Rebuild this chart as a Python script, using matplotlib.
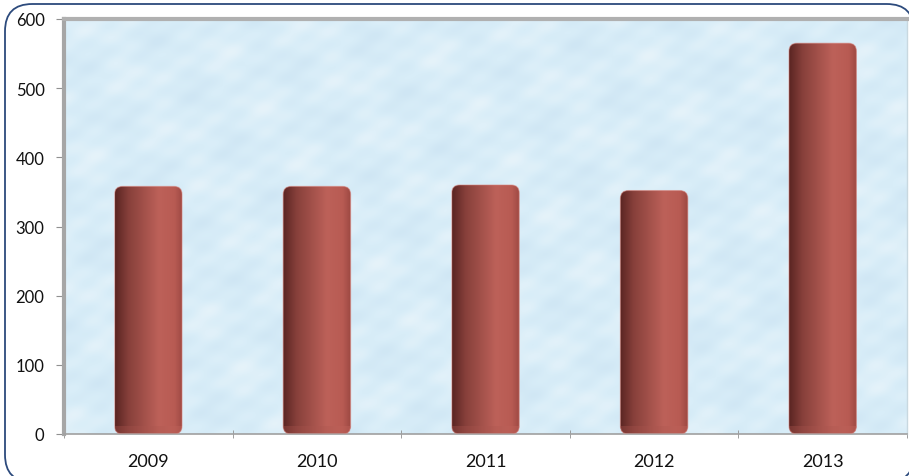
import numpy as np
import matplotlib
matplotlib.use("Agg")
import matplotlib.pyplot as plt
from matplotlib.patches import FancyBboxPatch
from matplotlib.colors import LinearSegmentedColormap

# === DATA ===
years = ["2009", "2010", "2011", "2012", "2013"]
values = [358, 358, 360, 352, 565]
y_ticks = [0, 100, 200, 300, 400, 500, 600]

# === FIGURE ===
W, H = 909, 477
fig = plt.figure(figsize=(W / 100, H / 100), dpi=100)

# outer rounded frame (right/bottom run off the image like the reference)
frame = FancyBboxPatch((5 / W, -6 / H), 909 / W, 478 / H,
                       boxstyle="round,pad=0,rounding_size=0.03",
                       transform=fig.transFigure, facecolor="white",
                       edgecolor="#2c4a7c", linewidth=1.3,
                       mutation_aspect=W / H, clip_on=False, zorder=-5)
fig.patches.append(frame)

ax_l, ax_b, ax_w, ax_h = 64, 42, 843, 415
ax = fig.add_axes([ax_l / W, ax_b / H, ax_w / W, ax_h / H])
ax.set_facecolor("#d7ecf8")
ax.set_xlim(-0.5, len(years) - 0.5)
ax.set_ylim(0, 600)

# soft mottled background (deterministic blend of waves, just texture)
gx, gy = np.meshgrid(np.linspace(0, 1, 600), np.linspace(0, 1, 300))
tex = (np.sin(gx * 37 + gy * 11) * np.cos(gy * 29 - gx * 13)
       + 0.6 * np.sin(gx * 83 - gy * 47 + 1.3) * np.sin(gy * 61 + gx * 17)
       + 0.4 * np.cos(gx * 151 + gy * 97))
tex = (tex - tex.min()) / (tex.max() - tex.min())
bg_cmap = LinearSegmentedColormap.from_list("bg", ["#cfe6f4", "#d8edf8", "#e6f3fa"])
ax.imshow(tex, extent=(-0.5, len(years) - 0.5, 0, 600), aspect="auto",
          cmap=bg_cmap, zorder=0, interpolation="bilinear")

# bars
bar_w = 0.4
bars = ax.bar(range(len(years)), values, width=bar_w, color="#a9504a", zorder=2)

cyl_cmap = LinearSegmentedColormap.from_list(
    "cyl", [(0.0, "#5a2522"), (0.2, "#87403b"), (0.65, "#bd6159"), (0.88, "#b85b53"), (1.0, "#9c4842")])
grad = np.linspace(0, 1, 256)[None, :]

px_x = ax_w / len(years)      # pixels per x unit
px_y = ax_h / 600.0           # pixels per y unit
r_px = 8
for b in bars:
    x0, w, h = b.get_x(), b.get_width(), b.get_height()
    b.set_visible(False)
    shape = FancyBboxPatch((x0, 0), w, h,
                           boxstyle="round,pad=0,rounding_size=%f" % (r_px / px_x),
                           mutation_aspect=px_x / px_y,
                           facecolor="none", edgecolor="none", zorder=2)
    ax.add_patch(shape)
    im = ax.imshow(grad, extent=(x0, x0 + w, 0, h), aspect="auto",
                   cmap=cyl_cmap, zorder=2)
    im.set_clip_path(shape)
    # darker base of the cylinder
    base = ax.imshow(grad, extent=(x0, x0 + w, 0, 8 / px_y), aspect="auto",
                     cmap=cyl_cmap, zorder=2.5, alpha=0.55, vmin=-0.6, vmax=1.6)
    base.set_clip_path(shape)
    # faint light rim at the top of the cylinder
    rim = FancyBboxPatch((x0, 0), w, h,
                         boxstyle="round,pad=0,rounding_size=%f" % (r_px / px_x),
                         mutation_aspect=px_x / px_y,
                         facecolor="none", edgecolor="#d98078", linewidth=0.8,
                         alpha=0.5, zorder=3)
    ax.add_patch(rim)

# axes styling
ax.spines["right"].set_color("#c8d8e0")
ax.spines["right"].set_linewidth(1)
ax.spines["left"].set_color("#a6a6a6")
ax.spines["left"].set_linewidth(3)
ax.spines["top"].set_color("#b0b0b0")
ax.spines["top"].set_linewidth(3)
ax.spines["bottom"].set_color("#a0a0a0")
ax.spines["bottom"].set_linewidth(1.2)

ax.set_yticks(y_ticks)
ax.set_yticklabels([str(t) for t in y_ticks], fontsize=12)
ax.set_xticks(np.arange(-0.5, len(years)), minor=True)
ax.set_xticks(range(len(years)))
ax.set_xticklabels(years, fontsize=13)
ax.tick_params(axis="x", which="major", length=0, pad=14)
ax.tick_params(axis="x", which="minor", length=6, color="#909090", direction="inout")
ax.tick_params(axis="y", length=6, color="#909090", direction="out", pad=8)
for lab in ax.get_xticklabels() + ax.get_yticklabels():
    lab.set_fontfamily(["Lato", "DejaVu Sans"])
    lab.set_color("#111111")

fig.savefig("out.png", dpi=100)
